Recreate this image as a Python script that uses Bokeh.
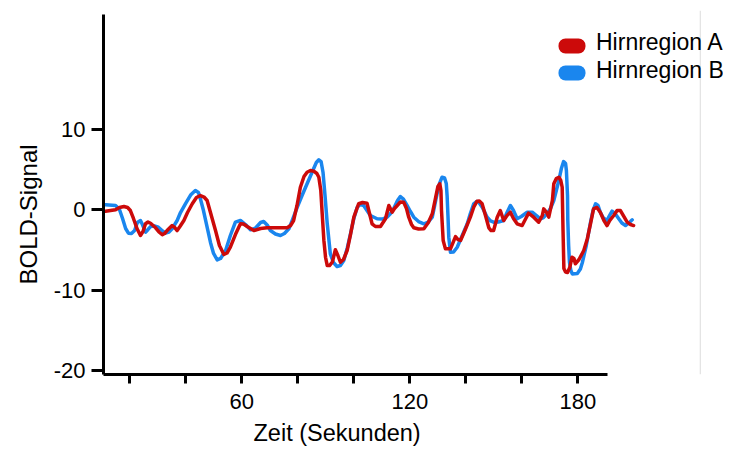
from bokeh.plotting import figure
from bokeh.models import FixedTicker, Legend, LegendItem, Span, Range1d, Title, BoxAnnotation
from bokeh.embed import file_html
from bokeh.resources import INLINE

# ---- data ----
t_b = [11.3, 14.9, 16.3, 17.4, 18.5, 19.5, 20.6, 21.7, 22.7, 23.8,
       24.5, 25.6, 26.5, 27.4, 28.8, 30.2, 31.7, 32.7, 34.0, 35.1,
       36.9, 38.1, 39.9, 41.7, 43.4, 44.5, 45.2, 46.3, 47.6, 48.8,
       49.9, 51.2, 52.4, 54.2, 55.9, 57.7, 59.5, 61.3, 63.1, 64.9,
       66.7, 67.8, 69.2, 70.2, 72.0, 73.8, 75.2, 76.8, 78.1, 79.8,
       81.5, 83.3, 85.2, 86.6, 87.5, 88.3, 89.0, 89.7, 90.5, 91.6,
       92.7, 94.0, 95.2, 96.4, 97.7, 98.8, 100.0, 101.2, 102.4, 103.5,
       104.7, 105.9, 108.3, 110.2, 111.9, 113.1, 114.2, 115.6, 116.6, 117.7,
       119.0, 120.2, 121.4, 123.1, 125.0, 126.6, 128.0, 128.8, 129.7, 130.6,
       131.5, 132.4, 133.0, 133.3, 133.6, 133.9, 134.5, 135.6, 136.9, 138.4,
       140.5, 141.6, 142.8, 143.8, 144.6, 145.9, 147.6, 148.8, 149.9, 151.6,
       153.5, 154.7, 155.9, 157.0, 158.3, 159.8, 161.9, 163.7, 165.2, 166.6,
       167.7, 169.0, 170.2, 171.4, 172.3, 173.2, 174.1, 174.9, 175.6, 175.9,
       176.3, 176.4, 176.7, 177.0, 177.5, 178.0, 179.8, 180.9, 181.6, 183.0,
       184.5, 185.4, 186.3, 187.2, 188.0, 189.1, 190.4, 191.3, 192.2, 193.4,
       194.6, 195.7, 197.0, 198.2, 199.4]
v_b = [0.62, 0.54, 0.04, -1.08, -2.33, -2.91, -2.95, -2.58, -1.58, -1.33,
       -1.83, -2.79, -2.45, -2.08, -2.02, -2.17, -2.64, -2.91, -2.76, -2.37,
       -1.33, -0.34, 0.78, 1.84, 2.40, 2.15, 1.37, -0.09, -2.17, -4.07,
       -5.44, -6.23, -6.06, -5.07, -3.20, -1.54, -1.33, -1.83, -2.49, -2.27,
       -1.58, -1.46, -1.96, -2.58, -3.01, -3.20, -2.95, -2.37, -1.21, 0.32,
       1.78, 3.24, 4.77, 5.89, 6.23, 6.01, 4.64, 1.78, -1.74, -5.48,
       -6.56, -7.06, -6.94, -6.31, -4.69, -2.99, -1.08, 0.32, 0.66, 0.54,
       -0.09, -0.71, -1.12, -1.15, -0.92, -0.46, 0.12, 1.16, 1.66, 1.34,
       0.54, -0.21, -0.92, -1.46, -1.74, -1.52, -0.92, 0.41, 1.99, 3.28,
       4.06, 3.96, 3.28, 1.78, -0.71, -3.41, -5.28, -5.26, -4.66, -3.45,
       -1.74, -0.46, 0.75, 1.03, 0.95, 0.29, -0.92, -1.39, -1.54, -1.52,
       -1.33, -0.34, 0.54, -0.09, -1.12, -0.83, -0.30, -0.30, -0.71, -1.12,
       -0.96, -0.50, 0.16, 1.16, 2.40, 3.65, 5.14, 6.01, 5.77, 4.89,
       1.78, -1.33, -4.45, -6.56, -7.56, -7.99, -7.93, -7.37, -6.56, -4.45,
       -1.58, -0.09, 0.75, 0.54, -0.30, -1.02, -1.33, -0.71, -0.17, -0.52,
       -1.12, -1.64, -1.96, -1.64, -1.25]

t_a = [11.3, 14.9, 16.3, 17.9, 19.2, 20.2, 21.3, 22.6, 23.8, 24.7,
       25.6, 26.5, 27.4, 29.2, 30.4, 31.6, 32.4, 33.3, 35.1, 36.0,
       36.9, 37.9, 39.3, 40.6, 42.3, 43.8, 45.2, 46.5, 47.6, 48.8,
       50.6, 52.0, 53.6, 54.7, 55.9, 57.7, 59.5, 60.6, 61.9, 64.3,
       66.7, 69.0, 73.8, 76.2, 77.4, 78.5, 79.7, 80.9, 82.2, 83.3,
       84.5, 85.7, 86.8, 87.5, 88.2, 88.7, 89.3, 89.9, 90.5, 91.3,
       92.3, 93.4, 94.3, 95.2, 96.3, 97.6, 98.8, 100.0, 101.7, 103.1,
       104.7, 105.6, 106.5, 107.7, 109.5, 111.3, 112.5, 113.7, 114.5, 115.5,
       116.6, 117.8, 118.8, 119.6, 120.6, 121.4, 123.1, 125.0, 126.6, 128.0,
       129.2, 130.0, 130.7, 131.1, 131.3, 131.9, 132.7, 134.5, 136.3, 137.2,
       138.1, 139.8, 141.6, 142.9, 144.0, 144.8, 145.8, 147.0, 148.2, 149.0,
       149.9, 151.2, 152.3, 153.5, 154.7, 155.9, 157.0, 158.3, 160.1, 161.4,
       162.4, 164.2, 166.0, 167.3, 167.8, 168.9, 169.6, 170.9, 171.4, 172.3,
       173.2, 173.9, 174.4, 174.7, 175.0, 175.6, 176.3, 177.1, 177.9, 178.6,
       179.1, 180.4, 182.1, 183.4, 184.5, 185.6, 186.8, 188.0, 189.3, 190.4,
       191.4, 192.8, 194.0, 195.2, 196.4, 197.6, 198.8, 199.9]
v_a = [-0.17, 0.0, 0.29, 0.41, 0.29, -0.09, -1.08, -2.37, -3.20, -2.70,
       -1.74, -1.52, -1.67, -2.24, -2.76, -3.11, -2.95, -2.58, -1.96, -2.20,
       -2.58, -2.08, -1.33, -0.34, 0.75, 1.53, 1.78, 1.59, 1.16, -0.34,
       -2.58, -4.45, -5.57, -5.38, -4.66, -3.08, -1.74, -1.77, -2.08, -2.58,
       -2.33, -2.24, -2.24, -2.24, -1.96, -1.33, 0.54, 2.81, 4.15, 4.68,
       4.89, 4.81, 4.52, 4.06, 2.40, -0.50, -3.82, -5.94, -6.94, -6.94,
       -6.53, -4.98, -5.69, -6.53, -6.19, -5.07, -3.08, -0.92, 0.75, 0.91,
       0.82, -0.46, -1.74, -2.08, -2.08, -1.12, 0.54, -0.30, 0.16, 0.54,
       0.97, 0.95, 0.16, -0.92, -1.83, -2.24, -2.39, -2.37, -1.58, -0.50,
       1.53, 2.90, 3.24, 2.40, -0.09, -3.82, -4.86, -4.86, -3.33, -3.70,
       -3.82, -2.45, -0.92, 0.41, 1.07, 1.10, 0.75, -0.71, -2.24, -2.58,
       -2.58, -0.92, -0.09, -1.33, -0.71, -0.30, -1.08, -1.74, -1.96, -1.08,
       -0.42, -0.92, -1.54, -0.71, 0.12, -0.34, -0.92, 1.16, 3.24, 3.90,
       4.06, 3.65, 2.81, -2.58, -7.31, -7.75, -7.81, -7.19, -5.90, -6.06,
       -6.72, -6.19, -5.07, -3.57, -1.74, 0.12, 0.29, -0.30, -1.33, -1.96,
       -1.33, -0.71, -0.09, -0.09, -0.83, -1.54, -1.83, -1.96]

x_ticks = [20, 40, 60, 80, 100, 120, 140, 160, 180]
x_labeled = [60, 120, 180]
y_ticks = [-20, -10, 0, 10]
series_names = ["Hirnregion A", "Hirnregion B"]

RED = "#CC0A0A"
BLUE = "#1A86EE"
FONT = "Liberation Sans"

p = figure(width=731, height=453, output_backend="svg", toolbar_location=None,
           x_range=Range1d(10.6, 232.0), y_range=Range1d(-20.51, 24.82),
           min_border_left=103, min_border_right=8, min_border_top=10, min_border_bottom=79)
p.outline_line_color = None
p.grid.visible = False
p.background_fill_color = "white"

rb = p.line(t_b, v_b, line_color=BLUE, line_width=3.5, line_join="round", line_cap="round")
ra = p.line(t_a, v_a, line_color=RED, line_width=3.5, line_join="round", line_cap="round")

# legend: texts from a Legend, pill swatches as rounded boxes (screen units)
nan = float("nan")
la = p.line([nan], [nan], line_alpha=0)
lb = p.line([nan], [nan], line_alpha=0)
legend = Legend(items=[LegendItem(label=series_names[0], renderers=[la]),
                       LegendItem(label=series_names[1], renderers=[lb])],
                location=(461, 290), padding=0, margin=0, spacing=1,
                glyph_width=15, glyph_height=26, label_standoff=17,
                border_line_alpha=0, background_fill_alpha=0,
                label_text_font=FONT, label_text_font_size="23px", label_text_color="black")
p.add_layout(legend)
for color, top in ((RED, 336), (BLUE, 309)):
    p.add_layout(BoxAnnotation(left=455, right=482, top=top, bottom=top - 15,
                               left_units="screen", right_units="screen",
                               top_units="screen", bottom_units="screen",
                               fill_color=color, fill_alpha=1, line_color=None,
                               border_radius=7))

for ax in (p.xaxis[0], p.yaxis[0]):
    ax.axis_line_width = 3
    ax.axis_line_color = "black"
    ax.major_tick_line_width = 3
    ax.major_tick_line_color = "black"
    ax.major_tick_in = 0
    ax.minor_tick_in = 0
    ax.minor_tick_out = 0
    ax.major_label_text_font = FONT
    ax.major_label_text_font_size = "22px"
    ax.major_label_text_color = "black"

p.xaxis.ticker = FixedTicker(ticks=x_ticks)
p.xaxis.major_label_overrides = {t: ("" if t not in x_labeled else str(t)) for t in x_ticks}
p.xaxis.major_tick_out = 9
p.xaxis.major_label_standoff = 10
p.xaxis.bounds = (10.6, 190.4)

p.yaxis.ticker = FixedTicker(ticks=y_ticks)
p.yaxis.major_label_overrides = {t: str(t) for t in y_ticks}
p.yaxis.major_tick_out = 12
p.yaxis.major_label_standoff = 6
p.yaxis.bounds = (-20.51, 24.3)

xt = Title(text="Zeit (Sekunden)", align="left", offset=150, standoff=12,
           text_font=FONT, text_font_size="23.5px", text_font_style="normal", text_color="black")
p.add_layout(xt, "below")
yt = Title(text="BOLD-Signal", align="left", offset=90, standoff=18,
           text_font=FONT, text_font_size="24px", text_font_style="normal", text_color="black")
p.add_layout(yt, "left")

p.add_layout(Span(location=223.7, dimension="height", line_color="#dcdcdc", line_width=1))

open("out.html", "w").write(file_html(p, INLINE))
